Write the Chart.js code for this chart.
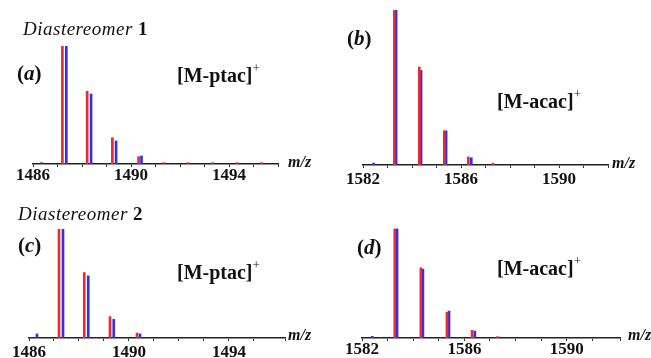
<!DOCTYPE html>
<html lang="en">
<head>
<meta charset="UTF-8">
<title>Isotope patterns</title>
<script src="https://cdn.jsdelivr.net/npm/chart.js"></script>
<style>
  body { margin: 0; background: #fff; }
  #wrap { position: relative; width: 651px; height: 358px; overflow: hidden; background: #fff; }
  canvas { position: absolute; }
  .t { position: absolute; font-family: "Liberation Serif", "Times New Roman", serif; color: #111; line-height: 1; white-space: nowrap; }
  .dia { font-size: 19px; font-style: italic; letter-spacing: 0.5px; }
  .dia b { font-style: normal; }
  .lab { font-size: 21px; font-weight: bold; }
  .ion { font-size: 20px; font-weight: bold; }
  .ion sup { font-size: 13px; font-weight: normal; position: relative; top: -2px; }
  .mz { font-size: 16px; font-weight: bold; font-style: italic; }
</style>
</head>
<body>
<div id="wrap">
  <canvas id="chartA" width="290" height="188" style="left:0;top:0"></canvas>
  <canvas id="chartB" width="290" height="189" style="left:330px;top:0"></canvas>
  <canvas id="chartC" width="295" height="158" style="left:0;top:200px"></canvas>
  <canvas id="chartD" width="300" height="158" style="left:330px;top:200px"></canvas>

  <div class="t dia" style="left:23px;top:19px">Diastereomer <b>1</b></div>
  <div class="t lab" style="left:17px;top:63px">(<i>a</i>)</div>
  <div class="t ion" style="left:177px;top:63px">[M-ptac]<sup>+</sup></div>
  <div class="t mz" style="left:288px;top:154px">m/z</div>

  <div class="t lab" style="left:347px;top:28px">(<i>b</i>)</div>
  <div class="t ion" style="left:497px;top:89px">[M-acac]<sup>+</sup></div>
  <div class="t mz" style="left:612px;top:155px">m/z</div>

  <div class="t dia" style="left:18px;top:204px">Diastereomer <b>2</b></div>
  <div class="t lab" style="left:18px;top:235px">(<i>c</i>)</div>
  <div class="t ion" style="left:177px;top:260px">[M-ptac]<sup>+</sup></div>
  <div class="t mz" style="left:288px;top:327px">m/z</div>

  <div class="t lab" style="left:357px;top:237px">(<i>d</i>)</div>
  <div class="t ion" style="left:497px;top:256px">[M-acac]<sup>+</sup></div>
  <div class="t mz" style="left:628px;top:327px">m/z</div>
</div>

<script>
  // (a) diastereomer 1, [M-ptac]+
  const aRedMz = [1487.2, 1488.21, 1489.24, 1490.31, 1491.33, 1492.33, 1493.33, 1494.33, 1495.33];
  const aRedInt = [100, 61.6, 22.3, 6.2, 1.2, 1.2, 1.2, 1.2, 1.2];
  const aBlueMz = [1486.35, 1487.36, 1488.37, 1489.39, 1490.43];
  const aBlueInt = [1.2, 100, 59.3, 19.5, 6.8];

  // (b) diastereomer 1, [M-acac]+
  const bRedMz = [1583.28, 1584.3, 1585.32, 1586.3, 1587.3];
  const bRedInt = [100, 63.2, 22.1, 5.2, 1.2];
  const bBlueMz = [1582.43, 1583.35, 1584.37, 1585.39, 1586.42];
  const bBlueInt = [1.2, 100, 61, 22, 4.7];

  // (c) diastereomer 2, [M-ptac]+
  const cRedMz = [1487.2, 1488.21, 1489.24, 1490.32];
  const cRedInt = [100, 60, 19.6, 4.5];
  const cBlueMz = [1486.32, 1487.36, 1488.37, 1489.39, 1490.44];
  const cBlueInt = [3.7, 100, 57, 17.2, 3.8];

  // (d) diastereomer 2, [M-acac]+
  const dRedMz = [1583.28, 1584.3, 1585.32, 1586.3, 1587.3];
  const dRedInt = [100, 64, 23.5, 7, 1.2];
  const dBlueMz = [1582.4, 1583.37, 1584.38, 1585.4, 1586.41];
  const dBlueInt = [1.5, 100, 63, 24.5, 6.3];

  const labelStep = 4;

  function toPoints(mz, inten) {
    return mz.map((x, i) => ({ x: x, y: inten[i] }));
  }

  function makeSpectrum(id, redMz, redInt, blueMz, blueInt, xMin, xMax, pad, labelPad) {
    const ctx = document.getElementById(id).getContext('2d');
    return new Chart(ctx, {
      type: 'bar',
      data: {
        datasets: [
          {
            label: 'red',
            data: toPoints(redMz, redInt),
            backgroundColor: 'rgb(238,40,48)',
            barThickness: 2,
            grouped: false,
            borderWidth: 0
          },
          {
            label: 'blue',
            data: toPoints(blueMz, blueInt),
            backgroundColor: 'rgb(48,48,230)',
            barThickness: 2,
            grouped: false,
            borderWidth: 0
          }
        ]
      },
      options: {
        responsive: false,
        devicePixelRatio: 1,
        animation: false,
        layout: { padding: pad },
        plugins: { legend: { display: false }, tooltip: { enabled: false } },
        scales: {
          x: {
            type: 'linear',
            min: xMin,
            max: xMax,
            offset: false,
            grid: { offset: false, drawOnChartArea: false, drawTicks: true, tickLength: 3, color: '#333', lineWidth: 1 },
            border: { display: true, color: '#222', width: 1.5 },
            ticks: {
              stepSize: 1,
              autoSkip: false,
              maxRotation: 0,
              padding: labelPad,
              color: '#111',
              font: { family: 'Liberation Serif', weight: 'bold', size: 17, lineHeight: 1 },
              callback: function (v) {
                const d = Math.round(v - xMin);
                return (Math.abs(v - xMin - d) < 1e-6 && d % labelStep === 0) ? String(Math.round(v)) : '';
              }
            },
            afterFit: function (s) { s.height = 24; }
          },
          y: { display: false, min: 0, max: 100 }
        }
      }
    });
  }

  makeSpectrum('chartA', aRedMz, aRedInt, aBlueMz, aBlueInt, 1486, 1496,
    { left: 33, right: 12, top: 46, bottom: 0 }, 0);
  makeSpectrum('chartB', bRedMz, bRedInt, bBlueMz, bBlueInt, 1582, 1592,
    { left: 33, right: 12, top: 10, bottom: 0 }, 3);
  makeSpectrum('chartC', cRedMz, cRedInt, cBlueMz, cBlueInt, 1486, 1496.24,
    { left: 29, right: 10, top: 29, bottom: -4 }, 3);
  makeSpectrum('chartD', dRedMz, dRedInt, dBlueMz, dBlueInt, 1582, 1592.08,
    { left: 32, right: 10, top: 28.5, bottom: -4 }, 0);
</script>
</body>
</html>
